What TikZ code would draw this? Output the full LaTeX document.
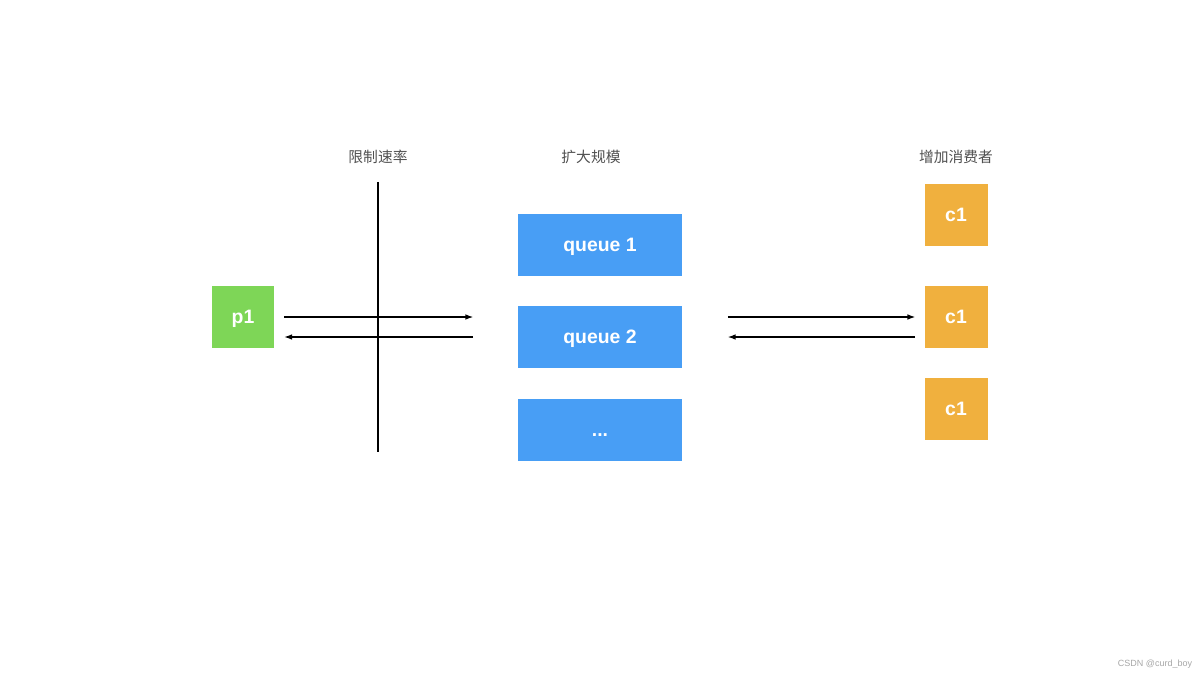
\documentclass[tikz,border=0pt]{standalone}
\usepackage{fontspec}
\setmainfont{Liberation Sans}
\newfontfamily\cjk{Noto Sans CJK SC}
\usetikzlibrary{arrows.meta}
\definecolor{pgreen}{RGB}{126,214,87}
\definecolor{qblue}{RGB}{72,158,245}
\definecolor{corange}{RGB}{240,176,62}
\definecolor{labelgray}{RGB}{80,80,80}
\begin{document}
\begin{tikzpicture}[x=0.025cm, y=-0.025cm,
    box/.style = {shape=rectangle, inner sep=0pt, text=white,
      text height=0.96em, text depth=0pt,
      font=\bfseries\fontsize{13.8}{16}\selectfont},
    producer/.style = {box, fill=pgreen, minimum width=1.55cm, minimum height=1.55cm},
    queue/.style = {box, fill=qblue, minimum width=4.075cm, minimum height=1.55cm},
    consumer/.style = {box, fill=corange, minimum width=1.575cm, minimum height=1.55cm},
    title/.style = {text=labelgray, font=\cjk\fontsize{10.5}{12}\selectfont},
    flow/.style = {line width=0.9pt, -{Latex[length=5.5pt,width=4pt]}}]
    \useasboundingbox (0,0) rectangle (1200,675);

    % producer
    \node[producer] (p1) at (243,317) {p1};

    % rate limit
    \node[title] (rate) at (378,157) {限制速率};
    \coordinate (rateTop) at (378,182);
    \coordinate (rateBot) at (378,452);
    \draw[line width=0.9pt] (rateTop) -- (rateBot);

    % queues
    \node[title] (scale) at (591,157) {扩大规模};
    \node[queue] (q1) at (600,245) {queue 1};
    \node[queue] (q2) at (600,337) {queue 2};
    \node[queue] (q3) at (600,430) {...};

    % consumers
    \node[title] (more) at (956,157) {增加消费者};
    \node[consumer] (c1) at (956,215) {c1};
    \node[consumer] (c2) at (956,317) {c1};
    \node[consumer] (c3) at (956,409) {c1};

    % connectors
    \draw[flow, shorten <=0.25cm, shorten >=1.125cm] (p1.east) -- (p1.east -| q2.west);
    \draw[flow, shorten <=1.125cm, shorten >=0.25cm] (q2.west) -- (q2.west -| p1.east);
    \draw[flow, shorten <=1.15cm, shorten >=0.225cm] (c2.west -| q2.east) -- (c2.west);
    \draw[flow, shorten <=0.225cm, shorten >=1.15cm] (q2.east -| c2.west) -- (q2.east);

    \node[text=gray!70, font=\fontsize{6.4}{8}\selectfont] (mark) at (1155,664) {CSDN @curd\_boy};
\end{tikzpicture}
\end{document}
